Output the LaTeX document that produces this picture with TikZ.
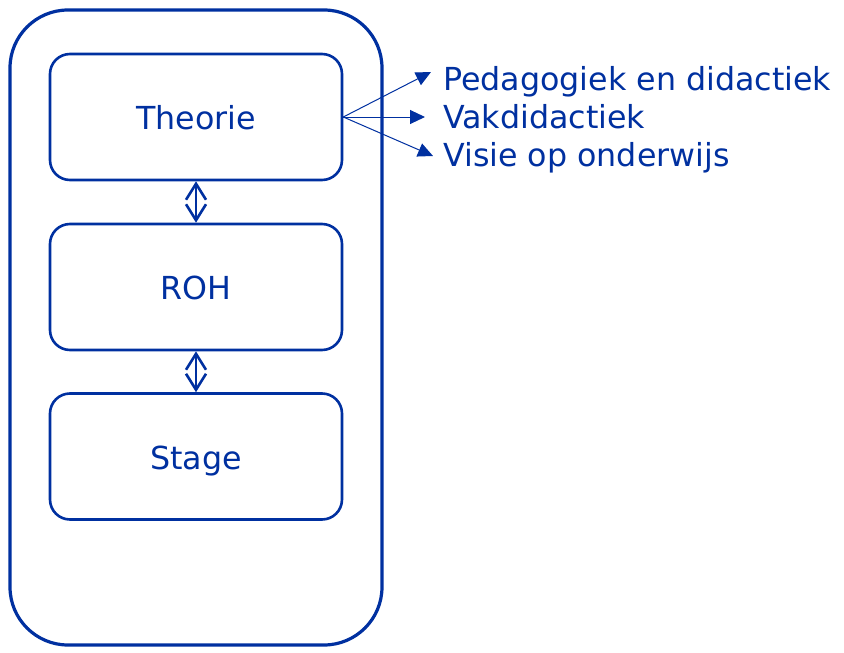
\documentclass[tikz,border=0pt]{standalone}
\usepackage{fontspec}
\setmainfont{DejaVu Sans}
\usetikzlibrary{arrows.meta}
\definecolor{dblue}{RGB}{0,48,160}
\begin{document}
\begin{tikzpicture}[x=1pt,y=-1pt,
  lbl/.style={text=dblue,font=\fontsize{31.7}{36}\selectfont,inner sep=0pt},
  framebox/.style={draw=dblue,line width=3.2pt,rounded corners=58pt,minimum width=372pt,minimum height=635pt,inner sep=0pt},
  box/.style={lbl,draw=dblue,line width=2.6pt,rounded corners=20pt,minimum width=292pt,minimum height=126pt,text height=25pt,text depth=0pt},
  dbl/.style={draw=dblue,line width=2.6pt,{Straight Barb[length=16pt,width=20pt]}-{Straight Barb[length=16pt,width=20pt]}},
  thin/.style={draw=dblue,line width=1pt,-{Triangle[length=15pt,width=14pt]}}]
\useasboundingbox (0,0) rectangle (844,653);
\node[framebox] (frame) at (196,327.5) {};
\node[box] (theo) at (196,117) {Theorie};
\node[box] (roh) at (196,287) {ROH};
\node[box] (stage) at (196,456.5) {Stage};
\draw[dbl] (theo.south) -- (roh.north);
\draw[dbl] (roh.south) -- (stage.north);
\node[lbl,anchor=base west] (ped) at (443,90) {Pedagogiek en didactiek};
\node[lbl,anchor=base west] (vak) at (443,128) {Vakdidactiek};
\node[lbl,anchor=base west] (vis) at (443,166) {Visie op onderwijs};
\coordinate (t1) at (431,72);
\coordinate (t2) at (425,117);
\coordinate (t3) at (433,156);
\draw[thin] (theo.east) -- (t1);
\draw[thin] (theo.east) -- (t2);
\draw[thin] (theo.east) -- (t3);
\end{tikzpicture}
\end{document}
